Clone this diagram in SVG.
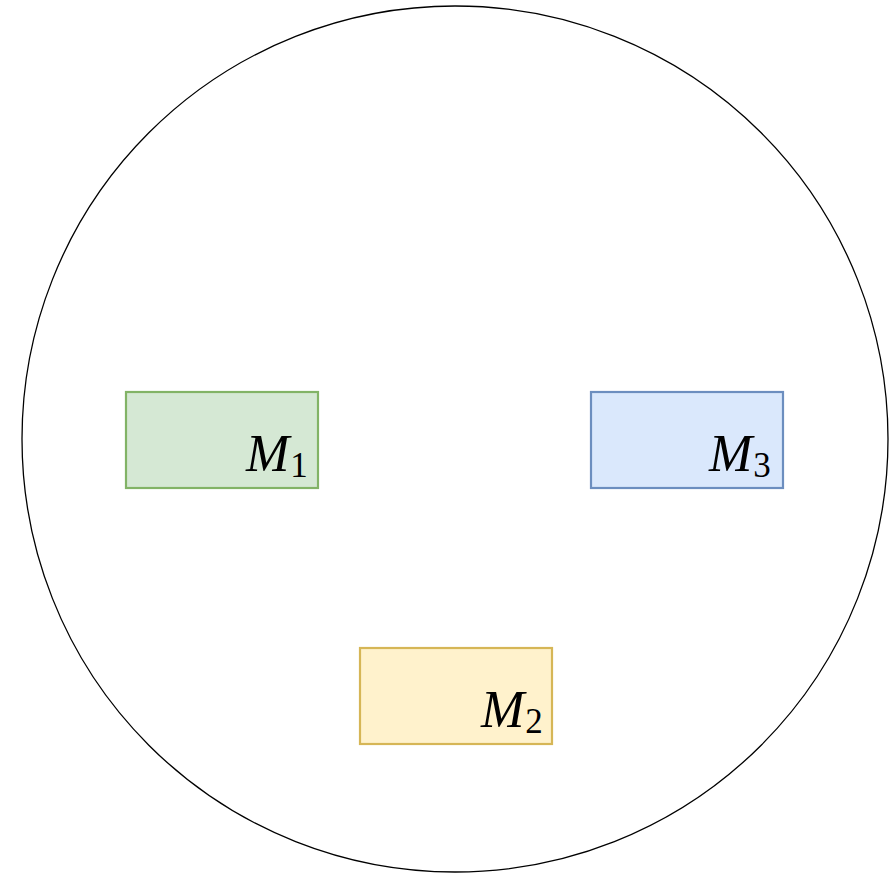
<svg xmlns="http://www.w3.org/2000/svg" width="889" height="874" viewBox="0 0 889 874">
<style>
.box{stroke-width:2.2}
.lbl{font-family:'Liberation Serif','Times New Roman',serif;font-style:italic;font-size:52px;fill:#000}
.sub{font-style:normal;font-size:35px}
</style>
<rect width="889" height="874" fill="#fff"/>
<g id="circle"><circle cx="455" cy="439" r="433" fill="none" stroke="#000" stroke-width="1.3"/></g>
<g id="M1">
<rect class="box" x="126" y="392" width="192" height="96" fill="#d5e8d4" stroke="#82b366"/>
<text class="lbl" x="246" y="471">M<tspan class="sub" dy="6" dx="1">1</tspan></text>
</g>
<g id="M3">
<rect class="box" x="591" y="392" width="192" height="96" fill="#dae8fc" stroke="#6c8ebf"/>
<text class="lbl" x="709" y="471">M<tspan class="sub" dy="6" dx="1">3</tspan></text>
</g>
<g id="M2">
<rect class="box" x="360" y="648" width="192" height="96" fill="#fff2cc" stroke="#d6b656"/>
<text class="lbl" x="481" y="727">M<tspan class="sub" dy="6" dx="1">2</tspan></text>
</g>
<g id="connectors"></g>
</svg>
